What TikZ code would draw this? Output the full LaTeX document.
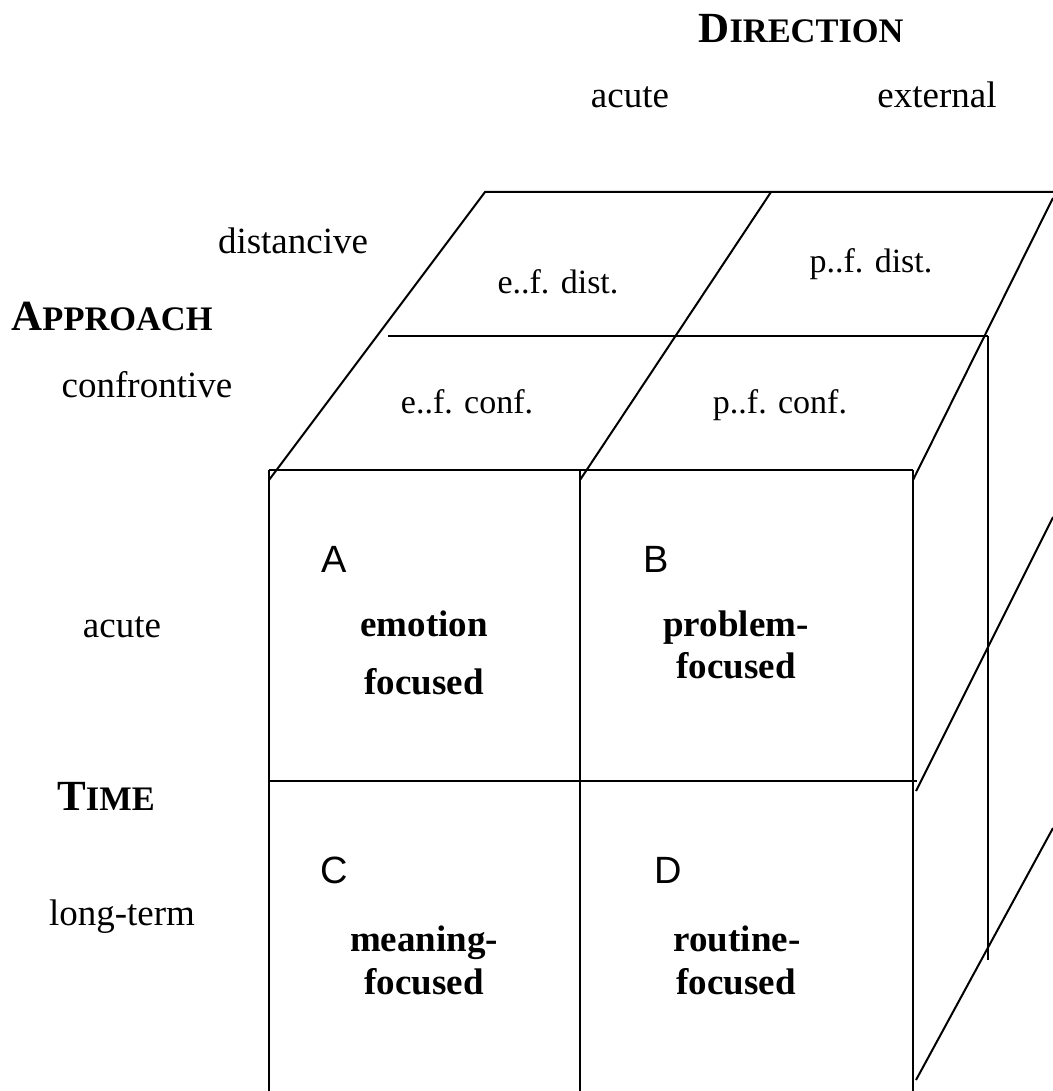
\documentclass[tikz,border=0pt]{standalone}
\usepackage{fontspec}
\setmainfont{Liberation Serif}
\newfontfamily\letterfont{Liberation Sans}
\newcommand{\smallcap}[2]{{\fontsize{21.5}{26}\selectfont #1}{\fontsize{17.2}{21}\selectfont #2}}
\begin{document}
\begin{tikzpicture}[x=0.5pt, y=-0.5pt, line width=1pt,
    font=\fontsize{18.5}{22}\selectfont,
    lbl/.style={anchor=base, inner sep=0pt},
    face/.style={anchor=base, inner sep=0pt, font=\fontsize{17}{20}\selectfont},
    hdr/.style={anchor=base, inner sep=0pt, font=\bfseries},
    cell/.style={anchor=base, inner sep=0pt, font=\bfseries\fontsize{18.5}{22}\selectfont},
    letter/.style={anchor=base, inner sep=0pt, font=\letterfont\fontsize{19}{22}\selectfont}]
    \useasboundingbox (0,0) rectangle (1053,1091);
    % front face
    \foreach \x in {269, 580, 913}
        \draw (\x,470) -- (\x,1091);
    \draw (269,470) -- (913,470);
    \draw (269,781) -- (917,781);
    % top face
    \draw (269,480) -- (485,192) -- (1053,192);
    \draw (388,336) -- (988,336);
    \draw (580,480) -- (771,192);
    \draw (913,480) -- (1053,198);
    % right face
    \draw (988,336) -- (988,960);
    \draw (916,791) -- (1053,517);
    \draw (916,1080) -- (1053,828);
    % axis headings
    \node[hdr] (direction) at (801,43) {\smallcap{D}{IRECTION}};
    \node[lbl] (dirAcute) at (630,108) {acute};
    \node[lbl] (dirExternal) at (937,108) {external};
    \node[lbl] (distancive) at (293,253) {distancive};
    \node[hdr] (approach) at (112,330) {\smallcap{A}{PPROACH}};
    \node[lbl] (confrontive) at (147,397) {confrontive};
    \node[lbl] (timeAcute) at (122,637) {acute};
    \node[hdr] (time) at (106,810) {\smallcap{T}{IME}};
    \node[lbl] (longTerm) at (122,925) {long-term};
    % top face cells
    \node[face] (efDist) at (558,293) {e..f. dist.};
    \node[face] (pfDist) at (871,272) {p..f. dist.};
    \node[face] (efConf) at (467,413) {e..f. conf.};
    \node[face] (pfConf) at (780,413) {p..f. conf.};
    % front face cells
    \node[letter] (cellA) at (334,572) {A};
    \node[letter] (cellB) at (656,572) {B};
    \node[letter] (cellC) at (334,883) {C};
    \node[letter] (cellD) at (668,883) {D};
    \node[cell] (emotion) at (424,636) {emotion};
    \node[cell] (focusA) at (424,694) {focused};
    \node[cell] (problem) at (736,636) {problem-};
    \node[cell] (focusB) at (736,678) {focused};
    \node[cell] (meaning) at (424,951) {meaning-};
    \node[cell] (focusC) at (424,994) {focused};
    \node[cell] (routine) at (737,951) {routine-};
    \node[cell] (focusD) at (736,994) {focused};
\end{tikzpicture}
\end{document}
